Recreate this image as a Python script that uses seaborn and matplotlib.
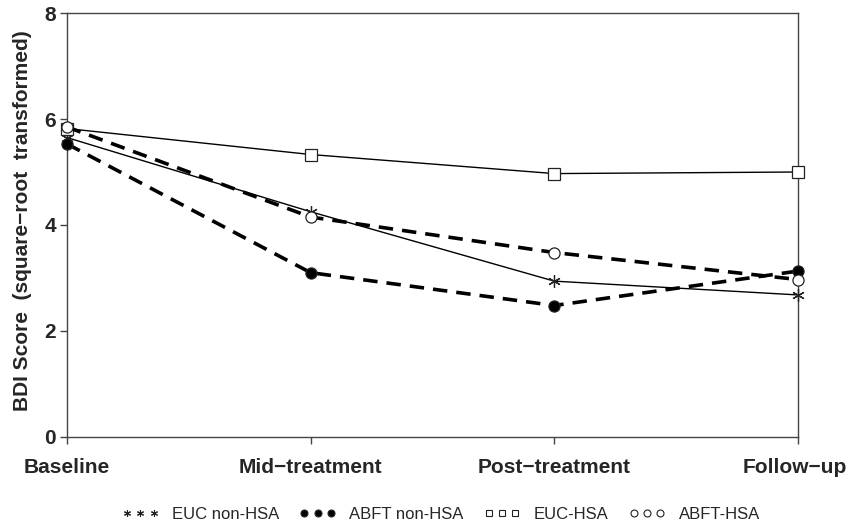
import matplotlib
matplotlib.use("Agg")
import matplotlib.pyplot as plt
import matplotlib.transforms as mtransforms
import seaborn as sns
import pandas as pd
from matplotlib.lines import Line2D

sns.set_style("white")
plt.rcParams['font.family'] = ['Liberation Sans', 'DejaVu Sans']

timepoints = ["Baseline", "Mid\u2212treatment", "Post\u2212treatment", "Follow\u2212up"]
euc_non_hsa = [5.65, 4.25, 2.94, 2.68]
abft_non_hsa = [5.53, 3.10, 2.48, 3.13]
euc_hsa = [5.82, 5.33, 4.97, 5.00]
abft_hsa = [5.85, 4.15, 3.48, 2.97]
series_names = ["EUC non-HSA", "ABFT non-HSA", "EUC-HSA", "ABFT-HSA"]
y_ticks = [0, 2, 4, 6, 8]

series = [euc_non_hsa, abft_non_hsa, euc_hsa, abft_hsa]
rows = []
for name, vals in zip(series_names, series):
    for t, v in zip(timepoints, vals):
        rows.append({"Time": t, "BDI": v, "Group": name})
df = pd.DataFrame(rows)

styles = {
    "EUC non-HSA": dict(marker=(6, 2, 0), ls="-", lw=1.0, mfc="#333333", ms=9),
    "ABFT non-HSA": dict(marker="o", ls=(0, (4, 2.5)), lw=2.6, mfc="black", ms=8),
    "EUC-HSA": dict(marker="s", ls="-", lw=1.0, mfc="white", ms=8),
    "ABFT-HSA": dict(marker="o", ls=(0, (4, 2.5)), lw=2.6, mfc="white", ms=8),
}

fig = plt.figure(figsize=(8.48, 5.22), dpi=100)
ax = fig.add_axes([0.079, 0.163, 0.862, 0.812])

for name in series_names:
    st = styles[name]
    sub = df[df["Group"] == name]
    sns.lineplot(data=sub, x="Time", y="BDI", ax=ax, color="black",
                 linestyle=st["ls"], linewidth=st["lw"], marker=st["marker"],
                 markersize=st["ms"], markerfacecolor=st["mfc"],
                 markeredgecolor="#222222", markeredgewidth=0.9,
                 legend=False, sort=False)
for ln in ax.lines:
    ln.set_clip_on(False)
    ln.set_zorder(3)

ax.set_xlim(0, 3)
ax.set_ylim(0, 8)
ax.set_yticks(y_ticks)
ax.set_yticklabels([str(t) for t in y_ticks], fontsize=15, fontweight="bold")
ax.set_xticks(range(len(timepoints)))
ax.set_xticklabels(timepoints, fontsize=15, fontweight="bold")
ax.set_xlabel("")
ax.set_ylabel("BDI Score  (square\u2212root  transformed)", fontsize=15, fontweight="bold")
ax.yaxis.set_label_coords(-0.048, 0.51)
for sp in ax.spines.values():
    sp.set_color("#444444")
    sp.set_linewidth(1.0)
ax.tick_params(axis="both", which="both", direction="out", length=5, width=1, color="#444444",
               bottom=True, left=True, pad=3)
ax.tick_params(axis="x", pad=10)
ax.grid(False)
lbls = ax.get_xticklabels()
lbls[-1].set_horizontalalignment("right")
lbls[-1].set_transform(lbls[-1].get_transform() + mtransforms.ScaledTranslation(0.49, 0, fig.dpi_scale_trans))

handles = []
for name in series_names:
    st = styles[name]
    handles.append(Line2D([], [], linestyle="none", marker=st["marker"], color="black",
                          markerfacecolor=st["mfc"], markeredgecolor="#222222",
                          markersize=5, markeredgewidth=0.8))
fig.legend(handles, series_names, loc="center", bbox_to_anchor=(0.52, 0.015),
           ncol=4, frameon=False, numpoints=3, handlelength=2.2, columnspacing=1.2,
           prop={"size": 12})

fig.savefig("out.png", dpi=100)
